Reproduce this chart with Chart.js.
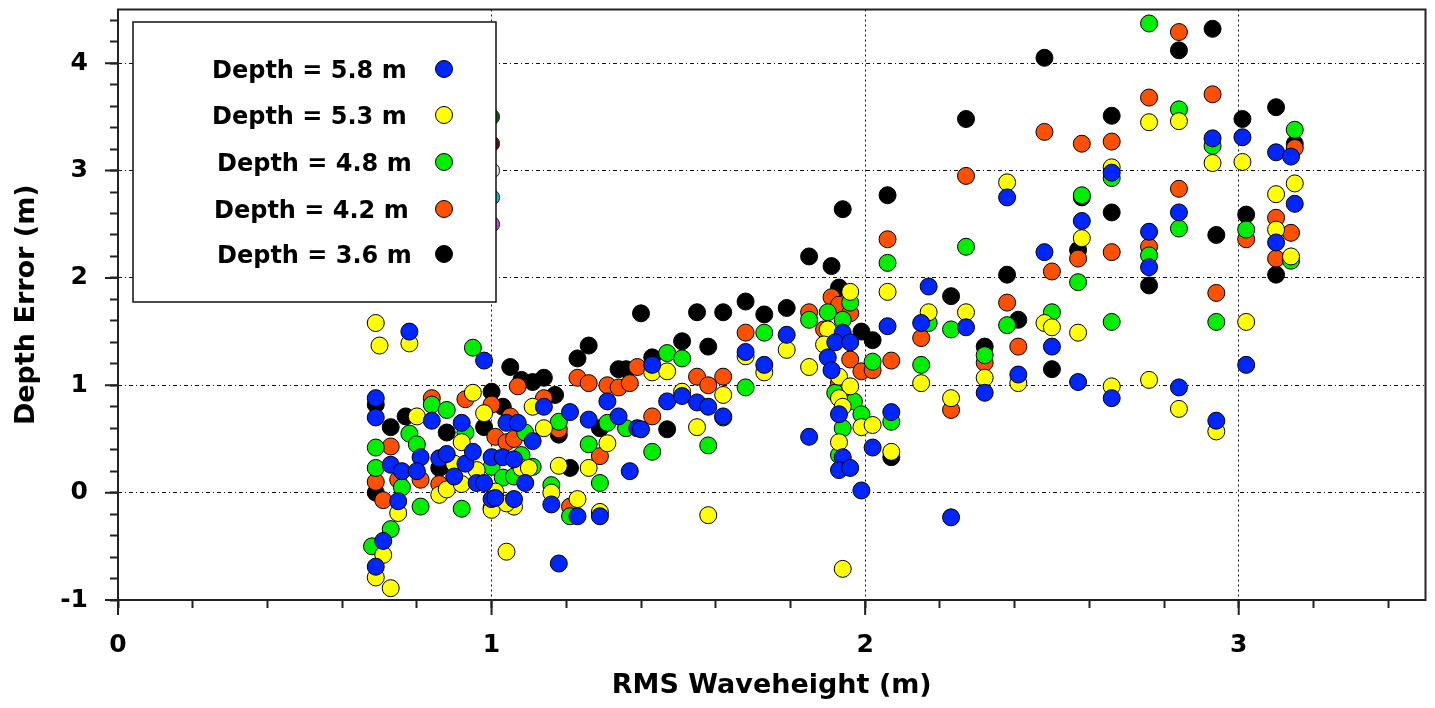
<!DOCTYPE html>
<html><head><meta charset="utf-8">
<script src="https://cdn.jsdelivr.net/npm/chart.js@4.4.0/dist/chart.umd.min.js"></script>
<style>html,body{margin:0;padding:0;background:#fff;}canvas{display:block;}</style>
</head><body>
<canvas id="c" width="1435" height="708"></canvas>
<script>
// ---- data (RMS waveheight m, depth error m) ----
const seriesLabels = ['Depth = 5.8 m','Depth = 5.3 m','Depth = 4.8 m','Depth = 4.2 m','Depth = 3.6 m'];
const xTickLabels = ['0','1','2','3'];
const yTickLabels = ['-1','0','1','2','3','4'];
const xTitle = 'RMS Waveheight (m)';
const yTitle = 'Depth Error (m)';

const depth58 = [[0.69,0.88],[0.69,0.70],[0.78,1.50],[0.98,1.23],[0.84,0.67],[0.92,0.65],[0.73,0.26],[0.76,0.20],[0.75,-0.08],[0.71,-0.45],
[0.69,-0.69],[0.81,0.33],[0.80,0.20],[0.86,0.32],[0.88,0.36],[0.90,0.15],[0.93,0.27],[0.95,0.38],[0.96,0.09],[1.00,0.33],
[1.00,-0.06],[1.04,0.65],[1.07,0.65],[1.11,0.48],[1.03,0.33],[1.06,0.31],[1.09,0.09],[0.98,0.09],[1.01,-0.05],[1.06,-0.06],
[1.14,0.80],[1.21,0.75],[1.26,0.68],[1.34,0.71],[1.39,0.60],[1.31,0.85],[1.37,0.20],[1.16,-0.11],[1.23,-0.22],[1.29,-0.22],
[1.18,-0.66],[1.43,1.19],[1.47,0.85],[1.51,0.90],[1.55,0.84],[1.58,0.80],[1.62,0.71],[1.40,0.59],[1.68,1.31],[1.73,1.19],
[1.79,1.47],[1.85,0.52],[1.94,1.49],[1.92,1.40],[1.96,1.40],[1.90,1.26],[1.91,1.14],[1.93,0.73],[1.94,0.33],[1.93,0.21],
[1.96,0.23],[1.99,0.02],[2.02,0.42],[2.07,0.75],[2.06,1.55],[2.17,1.92],[2.15,1.58],[2.27,1.54],[2.23,-0.23],[2.32,0.93],
[2.38,2.75],[2.41,1.10],[2.48,2.24],[2.50,1.36],[2.57,1.03],[2.58,2.53],[2.66,2.98],[2.66,0.88],[2.76,2.43],[2.76,2.10],
[2.84,2.61],[2.84,0.98],[2.93,3.30],[2.94,0.67],[3.01,3.31],[3.02,1.19],[3.10,3.17],[3.14,3.13],[3.15,2.69],[3.10,2.33]];

const depth53 = [[0.69,1.58],[0.70,1.37],[0.78,1.39],[0.80,0.71],[0.92,0.47],[0.95,0.93],[0.98,0.74],[0.86,-0.02],[0.88,0.03],[0.92,0.08],
[0.90,0.27],[0.96,0.21],[1.00,-0.14],[0.75,-0.19],[0.71,-0.58],[0.69,-0.79],[0.73,-0.89],[1.01,0.01],[1.00,-0.16],[1.06,-0.13],
[1.04,-0.10],[1.08,0.23],[1.10,0.23],[1.11,0.80],[1.14,0.60],[1.18,0.25],[1.26,0.23],[1.31,0.46],[1.16,0.00],[1.23,-0.06],
[1.29,-0.18],[1.04,-0.55],[1.43,1.12],[1.47,1.13],[1.51,0.94],[1.62,0.91],[1.55,0.61],[1.58,-0.21],[1.68,1.27],[1.73,1.12],
[1.79,1.33],[1.85,1.17],[1.96,1.87],[1.90,1.52],[1.89,1.38],[1.93,1.08],[1.96,0.99],[1.93,0.88],[1.94,0.80],[1.99,0.61],
[2.02,0.63],[1.93,0.47],[1.94,-0.71],[2.06,1.87],[2.07,0.38],[2.17,1.68],[2.15,1.02],[2.27,1.68],[2.23,0.88],[2.32,1.07],
[2.38,2.89],[2.41,1.02],[2.48,1.58],[2.50,1.54],[2.58,2.37],[2.57,1.49],[2.66,3.03],[2.66,0.99],[2.76,3.45],[2.76,1.05],
[2.84,3.46],[2.84,0.78],[2.93,3.07],[2.94,0.57],[3.01,3.08],[3.02,1.59],[3.10,2.78],[3.15,2.88],[3.10,2.45],[3.14,2.20]];

const depth48 = [[0.95,1.35],[0.84,0.82],[0.88,0.77],[0.78,0.55],[0.69,0.42],[0.80,0.45],[0.93,0.56],[0.69,0.23],[0.76,0.05],[0.81,-0.13],
[0.73,-0.34],[0.68,-0.50],[0.92,-0.15],[1.00,0.24],[1.03,0.14],[1.06,0.15],[1.08,0.35],[1.11,0.24],[1.09,0.56],[1.18,0.66],
[1.16,0.07],[1.21,-0.22],[1.26,0.45],[1.29,0.09],[1.31,0.65],[1.36,0.60],[1.47,1.30],[1.51,1.25],[1.68,0.98],[1.73,1.49],
[1.43,0.38],[1.58,0.44],[1.62,0.70],[1.85,1.61],[1.96,1.77],[1.90,1.68],[1.94,1.61],[2.02,1.22],[1.92,0.93],[1.97,0.85],
[1.99,0.73],[1.94,0.60],[1.93,0.35],[2.06,2.14],[2.07,0.66],[2.27,2.29],[2.17,1.58],[2.15,1.19],[2.23,1.52],[2.32,1.28],
[2.38,1.56],[2.50,1.68],[2.57,1.96],[2.58,2.77],[2.66,2.93],[2.66,1.59],[2.76,4.37],[2.76,2.21],[2.84,3.57],[2.84,2.46],
[2.93,3.23],[2.94,1.59],[3.02,2.45],[3.15,3.38],[3.14,2.16]];

const depth42 = [[0.84,0.88],[0.93,0.87],[0.73,0.43],[1.01,0.52],[0.69,0.10],[0.75,0.12],[0.71,-0.07],[0.81,0.12],[0.86,0.08],[1.00,0.82],
[1.07,0.99],[1.05,0.71],[1.04,0.47],[1.06,0.50],[1.14,0.88],[1.18,0.59],[1.23,1.07],[1.26,1.02],[1.29,0.34],[1.31,1.00],
[1.34,0.98],[1.37,1.02],[1.39,1.17],[1.21,-0.13],[1.43,0.71],[1.55,1.08],[1.58,1.00],[1.62,1.08],[1.68,1.49],[1.85,1.68],
[1.91,1.82],[1.93,1.75],[1.96,1.67],[1.89,1.52],[1.96,1.24],[1.99,1.13],[2.02,1.14],[1.93,1.02],[2.06,2.36],[2.07,1.23],
[2.27,2.95],[2.15,1.44],[2.23,0.77],[2.32,1.21],[2.38,1.77],[2.41,1.36],[2.48,3.36],[2.50,2.06],[2.58,3.25],[2.57,2.18],
[2.66,3.27],[2.66,2.24],[2.76,3.68],[2.76,2.29],[2.84,4.29],[2.84,2.83],[2.93,3.71],[2.94,1.86],[3.02,2.36],[3.10,2.56],
[3.15,3.21],[3.14,2.42],[3.10,2.18]];

const depth36 = [[0.69,0.82],[0.73,0.61],[0.77,0.71],[0.88,0.56],[0.98,0.61],[1.00,0.94],[1.03,0.80],[1.05,1.17],[1.08,1.05],[1.11,1.03],
[1.14,1.07],[1.17,0.91],[0.69,0.00],[0.86,0.23],[1.18,0.54],[1.21,0.23],[1.23,1.25],[1.26,1.37],[1.29,0.60],[1.34,1.15],
[1.36,1.15],[1.40,1.67],[1.55,1.68],[1.62,1.68],[1.68,1.78],[1.73,1.66],[1.79,1.72],[1.51,1.41],[1.58,1.36],[1.43,1.26],
[1.47,0.59],[1.85,2.20],[1.91,2.11],[1.94,2.64],[1.93,1.91],[1.99,1.50],[2.02,1.42],[2.06,2.77],[2.07,0.33],[2.23,1.83],
[2.27,3.48],[2.32,1.36],[2.38,2.03],[2.41,1.61],[2.48,4.05],[2.50,1.15],[2.57,2.26],[2.58,2.75],[2.66,3.51],[2.66,2.61],
[2.76,1.93],[2.84,4.12],[2.93,4.32],[2.94,2.40],[3.01,3.48],[3.02,2.59],[3.10,3.59],[3.10,2.03],[3.15,3.25]];

// markers partly hidden behind the legend box
const hiddenX = [1.0,1.0,1.0,1.0,1.0];
const hiddenY = [3.5,3.25,3.0,2.75,2.5];

// ---- styles ----
const seriesColors = ['#0026ff','#ffff00','#00ee00','#ff5000','#000000'];
const hiddenColors = ['#006400','#800000','#e8e8e8','#00c8d0','#e040e0'];
const FONT = "'DejaVu Sans', sans-serif";

const toPts = arr => arr.map(p => ({x:p[0], y:p[1]}));
const seriesData = [depth58, depth53, depth48, depth42, depth36];
const datasets = seriesData.map((d,i) => ({
  label: seriesLabels[i], data: toPts(d),
  backgroundColor: seriesColors[i], borderColor:'#000', borderWidth:1,
  pointRadius:8.5, pointHoverRadius:8.5
}));
datasets.push({
  label:'other', data: hiddenX.map((x,i)=>({x, y:hiddenY[i]})),
  backgroundColor: hiddenColors, borderColor:'#222', borderWidth:1, pointRadius:8
});

const isInt = v => Math.abs(v - Math.round(v)) < 1e-6;

const overlay = {
  id:'overlay',
  afterDatasetsDraw(chart){
    const ctx = chart.ctx;
    ctx.save();
    const lx=133, ly=22, lw=363, lh=280;
    ctx.fillStyle='#fff'; ctx.fillRect(lx,ly,lw,lh);
    ctx.strokeStyle='#111'; ctx.lineWidth=1.5; ctx.strokeRect(lx,ly,lw,lh);
    const rowsY=[69,115,162,209,254];
    const textX=[212,212,217,214,217];
    ctx.font = "bold 24px " + FONT;
    ctx.textBaseline='alphabetic'; ctx.textAlign='left';
    for(let i=0;i<5;i++){
      ctx.fillStyle='#000';
      ctx.fillText(chart.data.datasets[i].label, textX[i], rowsY[i]+9);
      ctx.beginPath(); ctx.arc(444, rowsY[i], 8.5, 0, Math.PI*2);
      ctx.fillStyle=seriesColors[i]; ctx.fill();
      ctx.lineWidth=1; ctx.strokeStyle='#000'; ctx.stroke();
    }
    ctx.restore();
  },
  afterDraw(chart){
    const ctx = chart.ctx, a = chart.chartArea, sx = chart.scales.x, sy = chart.scales.y;
    ctx.save();
    ctx.strokeStyle='#222'; ctx.lineWidth=2;
    ctx.strokeRect(a.left, a.top, a.right-a.left, a.bottom-a.top);
    ctx.beginPath();
    sx.ticks.forEach(t=>{ if(isInt(t.value)){ const px=sx.getPixelForValue(t.value); ctx.moveTo(px,a.bottom); ctx.lineTo(px,a.bottom+15);} });
    sy.ticks.forEach(t=>{ if(isInt(t.value)){ const py=sy.getPixelForValue(t.value); ctx.moveTo(a.left-13,py); ctx.lineTo(a.left,py);} });
    ctx.stroke();
    ctx.restore();
  }
};

new Chart(document.getElementById('c'), {
  type:'scatter',
  data:{datasets},
  options:{
    responsive:false, animation:false,
    layout:{padding:{top:8,right:8,left:0,bottom:0}},
    plugins:{legend:{display:false}, tooltip:{enabled:false}},
    scales:{
      x:{type:'linear', min:0, max:3.5,
        afterFit(s){ s.height=108; s.paddingLeft=0; s.paddingRight=0; },
        ticks:{stepSize:0.2, includeBounds:false, autoSkip:false, maxRotation:0, padding:22, color:'#000',
          font:{family:FONT, weight:'bold', size:25},
          callback:(v)=> isInt(v) ? (xTickLabels[Math.round(v)] ?? '') : ''},
        grid:{color:(c)=> (c.tick && isInt(c.tick.value) && c.tick.value>0) ? '#111' : 'rgba(0,0,0,0)',
          tickColor:'#222', tickLength:8, tickWidth:2, lineWidth:1},
        border:{display:false, dash:[2,3]},
        title:{display:true, text:xTitle, color:'#000', font:{family:FONT, weight:'bold', size:27}, padding:{top:0,bottom:6}}
      },
      y:{type:'linear', min:-1, max:4.5,
        afterFit(s){ s.width=118; s.paddingTop=0; s.paddingBottom=0; },
        ticks:{stepSize:0.2, includeBounds:false, autoSkip:false, padding:22, color:'#000',
          font:{family:FONT, weight:'bold', size:25},
          callback:(v)=> isInt(v) ? (yTickLabels[Math.round(v)+1] ?? '') : ''},
        grid:{color:(c)=> (c.tick && isInt(c.tick.value) && c.tick.value>-1) ? '#111' : 'rgba(0,0,0,0)',
          tickColor:'#222', tickLength:8, tickWidth:2, lineWidth:1},
        border:{display:false, dash:[4,3,1,3]},
        title:{display:true, text:yTitle, color:'#000', font:{family:FONT, weight:'bold', size:27}, padding:{top:11,bottom:0}}
      }
    }
  },
  plugins:[overlay]
});
</script>
</body></html>
